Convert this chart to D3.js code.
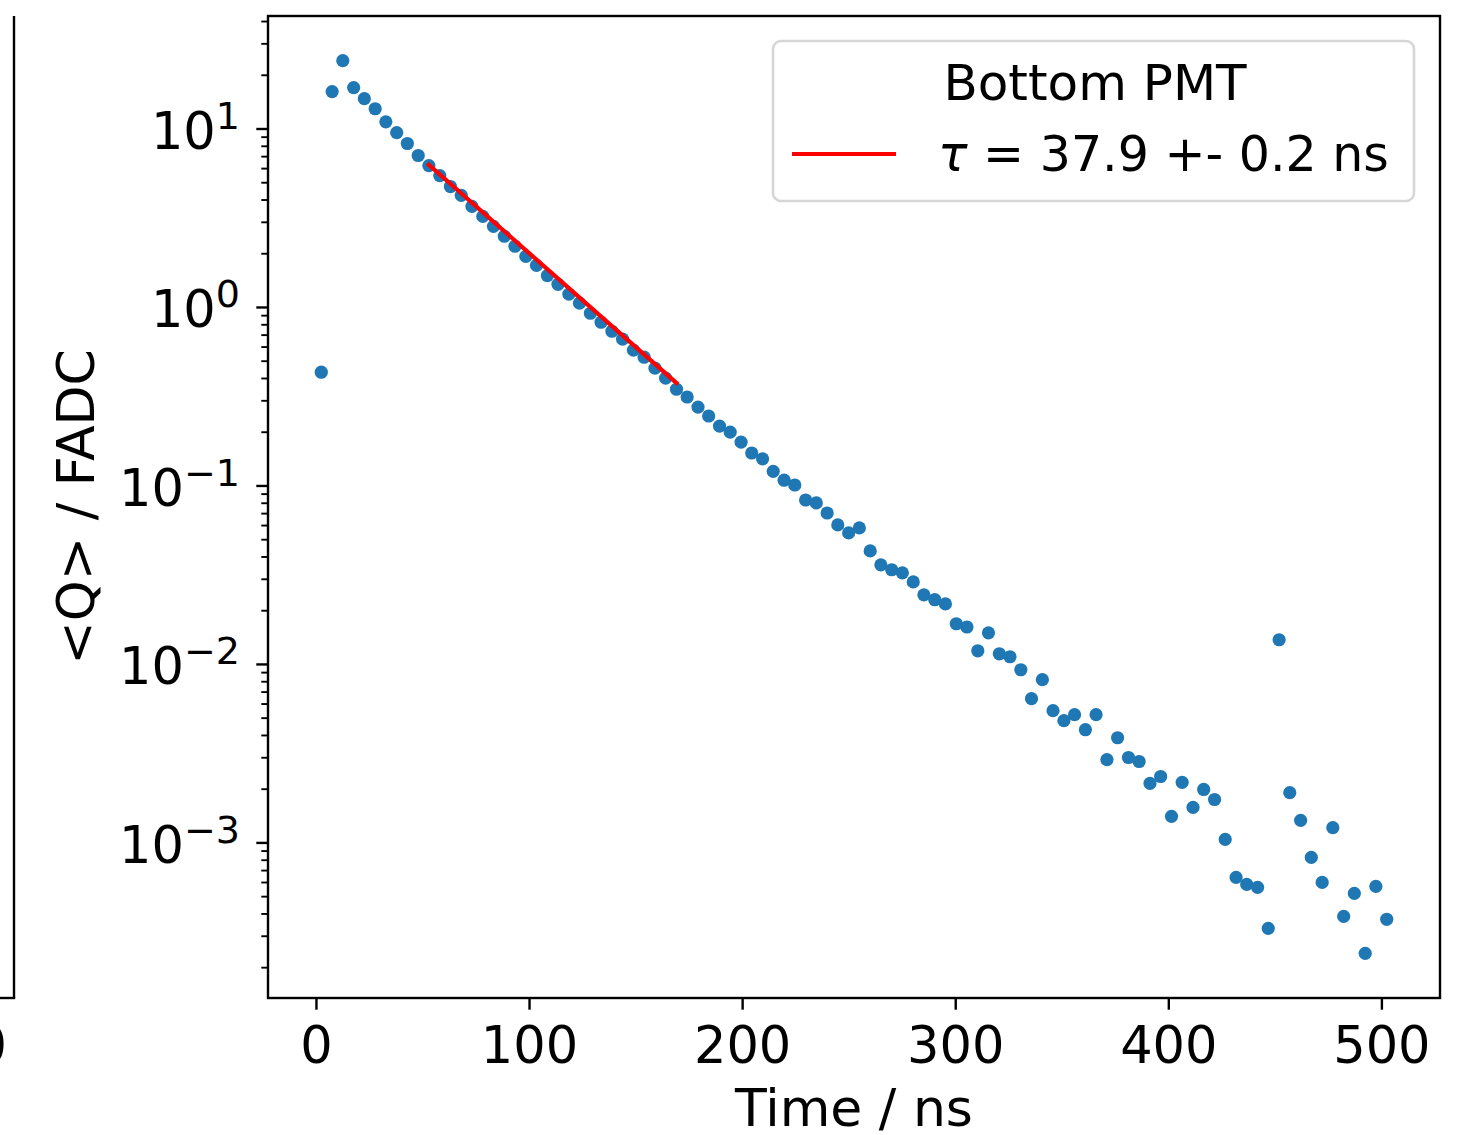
<!DOCTYPE html>
<html>
<head>
<meta charset="utf-8">
<script src="https://cdn.jsdelivr.net/npm/d3@7"></script>
<style>
  body { margin: 0; background: #fff; }
  svg { display: block; font-family: "DejaVu Sans", sans-serif; }
</style>
</head>
<body>
<div id="chart"></div>
<script>
// time bins (ns) of the averaged waveform
const timeNs = [
  2.5, 7.6, 12.6, 17.7, 22.7, 27.8, 32.8, 37.9, 42.9, 48.0,
  53.0, 58.1, 63.1, 68.2, 73.2, 78.3, 83.3, 88.4, 93.4, 98.5,
  103.5, 108.6, 113.6, 118.7, 123.7, 128.8, 133.8, 138.9, 143.9, 149.0,
  154.0, 159.1, 164.1, 169.2, 174.2, 179.3, 184.3, 189.4, 194.4, 199.5,
  204.5, 209.6, 214.6, 219.7, 224.7, 229.8, 234.8, 239.9, 244.9, 250.0,
  255.0, 260.1, 265.1, 270.2, 275.2, 280.3, 285.3, 290.4, 295.4, 300.5,
  305.5, 310.6, 315.6, 320.7, 325.7, 330.8, 335.8, 340.9, 345.9, 351.0,
  356.0, 361.1, 366.1, 371.2, 376.2, 381.3, 386.3, 391.4, 396.4, 401.5,
  406.5, 411.6, 416.6, 421.7, 426.7, 431.8, 436.8, 441.9, 446.9, 452.0,
  457.0, 462.1, 467.1, 472.2, 477.2, 482.3, 487.3, 492.4, 497.4, 502.5
];

// mean charge per bin (FADC units)
const meanQ = [
  0.431, 16.1, 24.0, 16.95, 14.7, 12.9, 10.9, 9.49, 8.24, 7.06,
  6.20, 5.45, 4.73, 4.22, 3.66, 3.22, 2.83, 2.49, 2.19, 1.92,
  1.71, 1.50, 1.34, 1.18, 1.05, 0.922, 0.821, 0.731, 0.660, 0.573,
  0.523, 0.454, 0.399, 0.346, 0.313, 0.275, 0.245, 0.215, 0.199, 0.175,
  0.152, 0.141, 0.120, 0.107, 0.1006, 0.0829, 0.0798, 0.0701, 0.0601, 0.0542,
  0.0578, 0.0430, 0.0359, 0.0337, 0.0324, 0.0288, 0.0244, 0.0229, 0.0217, 0.0168,
  0.0161, 0.01185, 0.01494, 0.0114, 0.01097, 0.00928, 0.00639, 0.00816, 0.00547, 0.00481,
  0.0052, 0.00428, 0.0052, 0.00291, 0.00386, 0.00299, 0.00284, 0.00214, 0.00234, 0.0014,
  0.00217, 0.00157, 0.00198, 0.00174, 0.00104, 0.000637, 0.000582, 0.00056, 0.00033, 0.01366,
  0.0019, 0.00133, 0.000824, 0.000597, 0.00121, 0.000385, 0.000518, 0.000239, 0.000567, 0.000371
];

// exponential fit, drawn between the ends of the fit range
const fitTime = [53.0, 169.2];
const fitQ = [6.26, 0.375];

const xTicks = [0, 100, 200, 300, 400, 500];
const yMajorExp = [-3, -2, -1, 0, 1];
const legendTitle = "Bottom PMT";
const legendLabel = " = 37.9 +- 0.2 ns";

const W = 1477, H = 1135;
const axL = 268, axR = 1440, axT = 16, axB = 998;
const fs = 51;

const svg = d3.select("#chart").append("svg")
  .attr("width", W).attr("height", H)
  .attr("viewBox", `0 0 ${W} ${H}`);

// matplotlib style 5% margins (log space for y)
const xe = d3.extent(timeNs);
const xPad = (xe[1] - xe[0]) * 0.05;
const x = d3.scaleLinear().domain([xe[0] - xPad, xe[1] + xPad]).range([axL, axR]);

const le = d3.extent(meanQ).map(Math.log10);
const lPad = (le[1] - le[0]) * 0.05;
const y = d3.scaleLog()
  .domain([Math.pow(10, le[0] - lPad), Math.pow(10, le[1] + lPad)])
  .range([axB, axT]);

// neighbouring panel, only its right edge shows
svg.append("line").attr("x1", 14).attr("x2", 14).attr("y1", axT).attr("y2", axB)
  .attr("stroke", "#000").attr("stroke-width", 2.4);
svg.append("line").attr("x1", 0).attr("x2", 15.2).attr("y1", axB).attr("y2", axB)
  .attr("stroke", "#000").attr("stroke-width", 2.4);
svg.append("text").attr("x", 7).attr("y", 1063).attr("text-anchor", "end")
  .attr("font-size", fs).text("0");

// data points
svg.append("g").selectAll("circle")
  .data(timeNs.map((t, i) => [t, meanQ[i]]))
  .join("circle")
  .attr("cx", d => x(d[0]))
  .attr("cy", d => y(d[1]))
  .attr("r", 6.6)
  .attr("fill", "#1f77b4");

// fit line
const line = d3.line().x(d => x(d[0])).y(d => y(d[1]));
svg.append("path")
  .datum(fitTime.map((t, i) => [t, fitQ[i]]))
  .attr("d", line)
  .attr("fill", "none")
  .attr("stroke", "#ff0000")
  .attr("stroke-width", 4.2)
  .attr("stroke-linecap", "square");

// x axis
const gx = svg.append("g").attr("transform", `translate(0,${axB})`)
  .call(d3.axisBottom(x).tickValues(xTicks).tickSize(11.7).tickSizeOuter(0).tickFormat(d3.format("d")));
gx.select(".domain").remove();
gx.selectAll(".tick line").attr("stroke-width", 2.4);
gx.selectAll(".tick text").attr("y", 65).attr("dy", null)
  .attr("font-size", fs).attr("font-family", "DejaVu Sans").attr("fill", "#000");

// y axis: minor ticks
const minor = [];
for (let e = -4; e <= 1; e++) {
  for (let m = 2; m <= 9; m++) {
    const v = m * Math.pow(10, e);
    if (v >= y.domain()[0] && v <= y.domain()[1]) minor.push(v);
  }
}
const gyMinor = svg.append("g").attr("transform", `translate(${axL},0)`)
  .call(d3.axisLeft(y).tickValues(minor).tickSize(6.7).tickSizeOuter(0).tickFormat(""));
gyMinor.select(".domain").remove();
gyMinor.selectAll(".tick line").attr("stroke-width", 1.9);

// y axis: major ticks with 10^n labels
const gy = svg.append("g").attr("transform", `translate(${axL},0)`)
  .call(d3.axisLeft(y).tickValues(yMajorExp.map(e => Math.pow(10, e))).tickSize(11.7).tickSizeOuter(0).tickFormat(""));
gy.select(".domain").remove();
gy.selectAll(".tick line").attr("stroke-width", 2.4);
gy.selectAll(".tick text").remove();
gy.selectAll(".tick").each(function(d) {
  const e = Math.round(Math.log10(d));
  const t = d3.select(this).append("text")
    .attr("x", -28).attr("y", 20)
    .attr("text-anchor", "end")
    .attr("font-size", fs).attr("font-family", "DejaVu Sans").attr("fill", "#000");
  t.append("tspan").text("10");
  t.append("tspan").attr("dy", -20).attr("font-size", 38)
    .text(e < 0 ? "\u2212" + Math.abs(e) : String(e));
});

// frame
svg.append("rect")
  .attr("x", axL).attr("y", axT)
  .attr("width", axR - axL).attr("height", axB - axT)
  .attr("fill", "none").attr("stroke", "#000").attr("stroke-width", 2.4);

// axis labels
svg.append("text")
  .attr("x", (axL + axR) / 2).attr("y", 1126)
  .attr("text-anchor", "middle").attr("font-size", 52)
  .text("Time / ns");
svg.append("text")
  .attr("transform", `translate(94,${(axT + axB) / 2}) rotate(-90)`)
  .attr("text-anchor", "middle").attr("font-size", 52)
  .text("<Q> / FADC");

// legend
const lg = svg.append("g");
lg.append("rect")
  .attr("x", 773).attr("y", 41).attr("width", 641).attr("height", 160)
  .attr("rx", 8)
  .attr("fill", "#fff").attr("fill-opacity", 0.8)
  .attr("stroke", "#d6d6d6").attr("stroke-width", 2.6);
lg.append("text")
  .attr("x", 1095).attr("y", 100)
  .attr("text-anchor", "middle").attr("font-size", 50)
  .text(legendTitle);
lg.append("line")
  .attr("x1", 792).attr("x2", 896).attr("y1", 154).attr("y2", 154)
  .attr("stroke", "#ff0000").attr("stroke-width", 4.2);
const lt = lg.append("text")
  .attr("x", 938).attr("y", 171).attr("font-size", 49);
lt.append("tspan").attr("font-style", "italic").text("\u03c4");
lt.append("tspan").text(legendLabel);
</script>
</body>
</html>
